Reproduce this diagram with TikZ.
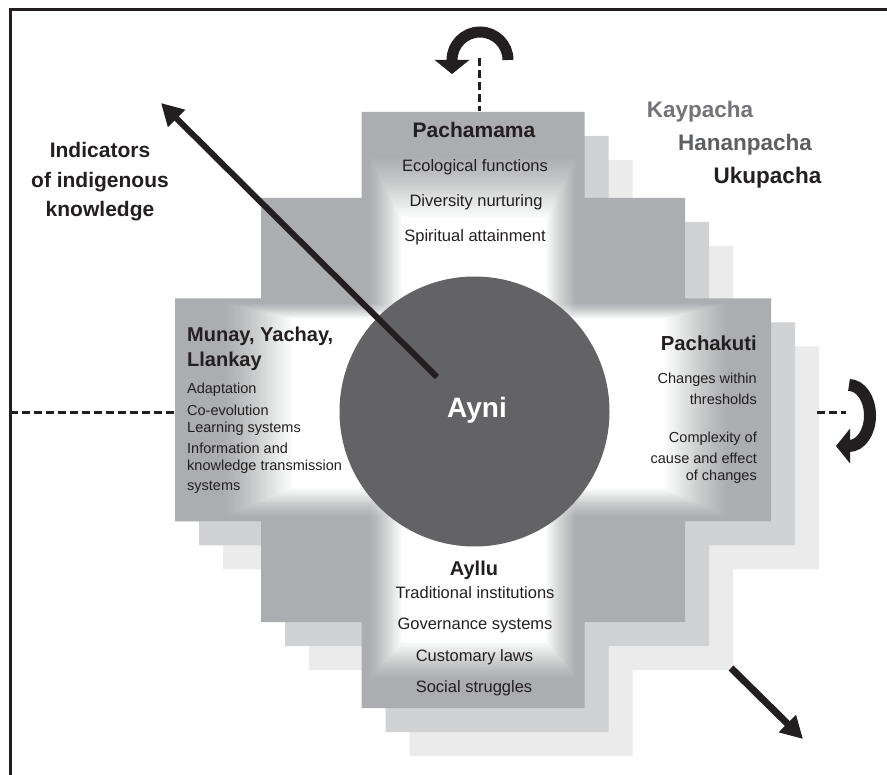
\documentclass[tikz,border=0pt]{standalone}
\usepackage{fontspec}
\setmainfont{Liberation Sans}
\usetikzlibrary{arrows.meta}
\definecolor{crossA}{HTML}{ACADB0}
\definecolor{crossB}{HTML}{D1D2D4}
\definecolor{crossC}{HTML}{EBEBEC}
\definecolor{aynicol}{HTML}{636366}
\definecolor{ink}{HTML}{231F20}
\definecolor{kaycol}{HTML}{737477}
\definecolor{hanancol}{HTML}{5E5F62}
\newcommand\chakanapath{(-111.5,-298) -- (111.5,-298) -- (111.5,-212) -- (212,-212) -- (212,-111.5) -- (298,-111.5) -- (298,111.5) -- (212,111.5) -- (212,212) -- (111.5,212) -- (111.5,298) -- (-111.5,298) -- (-111.5,212) -- (-212,212) -- (-212,111.5) -- (-298,111.5) -- (-298,-111.5) -- (-212,-111.5) -- (-212,-212) -- (-111.5,-212) -- cycle}
\begin{document}
\begin{tikzpicture}[x=1pt,y=-1pt,
  head/.style={font=\fontsize{21}{25}\selectfont\bfseries, text=ink, inner sep=0pt},
  item/.style={font=\fontsize{16.5}{20}\selectfont, text=ink, inner sep=0pt},
  small/.style={font=\fontsize{14.5}{19}\selectfont, text=ink, inner sep=0pt},
  pacha/.style={font=\fontsize{22.5}{26}\selectfont\bfseries, inner sep=0pt},
  dashline/.style={draw=ink, line width=3pt, dash pattern=on 8pt off 4pt},
  bigarrow/.style={draw=ink, line width=6pt, -{Triangle[length=22pt,width=23pt]}},
  turnarrow/.style={draw=ink, line width=11pt, -{Triangle[length=14pt,width=34pt]}}]
\useasboundingbox (0,0) rectangle (887,775);
\fill[white] (0,0) rectangle (887,775);
% frame (only left and top edges lie inside the picture)
\draw[ink, line width=3pt] (10,776) -- (10,10) -- (888,10);
% chakana layers
\fill[crossC, shift={(521,458)}] \chakanapath;
\fill[crossB, shift={(497,434)}] \chakanapath;
\fill[crossA, shift={(473,410)}] \chakanapath;
% soft white glow (linear fade built from stacked layers)
\foreach \k in {1,...,30}{
  \pgfmathsetmacro\t{(\k-1)/29}
  \pgfmathsetmacro\op{1/(31-\k)}
  \fill[white, opacity=\op] (370+32*\t,158+60*\t) rectangle (576-30*\t,678-36*\t);
}
\foreach \k in {1,...,30}{
  \pgfmathsetmacro\t{(\k-1)/29}
  \pgfmathsetmacro\op{1/(31-\k)}
  \fill[white, opacity=\op] (226+66*\t,303+16*\t) rectangle (727-62*\t,516-28*\t);
}
% centre
\node[circle, fill=aynicol, minimum size=270pt, inner sep=0pt] (ayni) at (474.5,411.5) {};
\node[font=\fontsize{28}{32}\selectfont\bfseries, text=white, inner sep=0pt] (aynitxt) at (477,410) {Ayni};
% Pachamama
\node[head] (pachamama) at (474,130) {Pachamama};
\node[item] (eco) at (475,167) {Ecological functions};
\node[item] (div) at (476,202) {Diversity nurturing};
\node[item] (spi) at (475,237) {Spiritual attainment};
% Munay
\node[font=\fontsize{20}{24}\selectfont\bfseries, text=ink, inner sep=0pt, anchor=west] (munay) at (187,336) {Munay, Yachay,};
\node[font=\fontsize{20}{24}\selectfont\bfseries, text=ink, inner sep=0pt, anchor=west] (llankay) at (187,361) {Llankay};
\node[small, anchor=west] (m1) at (187,390) {Adaptation};
\node[small, anchor=west] (m2) at (187,410) {Co-evolution};
\node[small, anchor=west] (m3) at (187,429) {Learning systems};
\node[small, anchor=west] (m4) at (187,448) {Information and};
\node[small, anchor=west] (m5) at (187,467) {knowledge transmission};
\node[small, anchor=west] (m6) at (187,487) {systems};
% Pachakuti
\node[font=\fontsize{20.3}{24}\selectfont\bfseries, text=ink, inner sep=0pt, anchor=east] (pachakuti) at (757,343) {Pachakuti};
\node[small, anchor=east] (k1) at (757,380) {Changes within};
\node[small, anchor=east] (k2) at (757,399) {thresholds};
\node[small, anchor=east] (k3) at (757,439) {Complexity of};
\node[small, anchor=east] (k4) at (757,458) {cause and effect};
\node[small, anchor=east] (k5) at (757,477) {of changes};
% Ayllu
\node[font=\fontsize{20}{24}\selectfont\bfseries, text=ink, inner sep=0pt] (ayllu) at (474,570) {Ayllu};
\node[item] (a1) at (475,593) {Traditional institutions};
\node[item] (a2) at (475,625) {Governance systems};
\node[item] (a3) at (474.5,657) {Customary laws};
\node[item] (a4) at (474,688) {Social struggles};
% indicators
\node[font=\fontsize{21}{29.5}\selectfont\bfseries, text=ink, inner sep=0pt, align=center] (indic) at (100,182) {Indicators\\of indigenous\\knowledge};
% pacha worlds
\node[pacha, text=kaycol] (kay) at (700,112) {Kaypacha};
\node[pacha, text=hanancol] (hanan) at (745,145) {Hananpacha};
\node[pacha, text=ink] (uku) at (767.5,178) {Ukupacha};
% dashed axes
\coordinate (leftEnd) at (10,413);
\coordinate (leftArm) at (175,413);
\coordinate (topEnd) at (479,58);
\coordinate (topArm) at (479,111);
\coordinate (rightA) at (817,413);
\coordinate (rightB) at (846,413);
\draw[dashline] (leftEnd) -- (leftArm);
\draw[dashline] (topEnd) -- (topArm);
\draw[dashline] (rightA) -- (rightB);
% turning arrows
\coordinate (topTurn) at (508,60);
\coordinate (rightTurn) at (849,385);
\draw[turnarrow] (topTurn) arc[start angle=0, end angle=-180, radius=28] -- ++(0,14);
\draw[turnarrow, line width=12pt] (rightTurn) arc[start angle=-90, end angle=90, x radius=21, y radius=30.5] -- ++(-13,0);
% straight arrows
\coordinate (bigS) at (437,377);
\coordinate (bigT) at (161,103);
\coordinate (smS) at (731,668);
\coordinate (smT) at (803,739);
\draw[bigarrow] (bigS) -- (bigT);
\draw[bigarrow, line width=7pt] (smS) -- (smT);
\end{tikzpicture}
\end{document}
